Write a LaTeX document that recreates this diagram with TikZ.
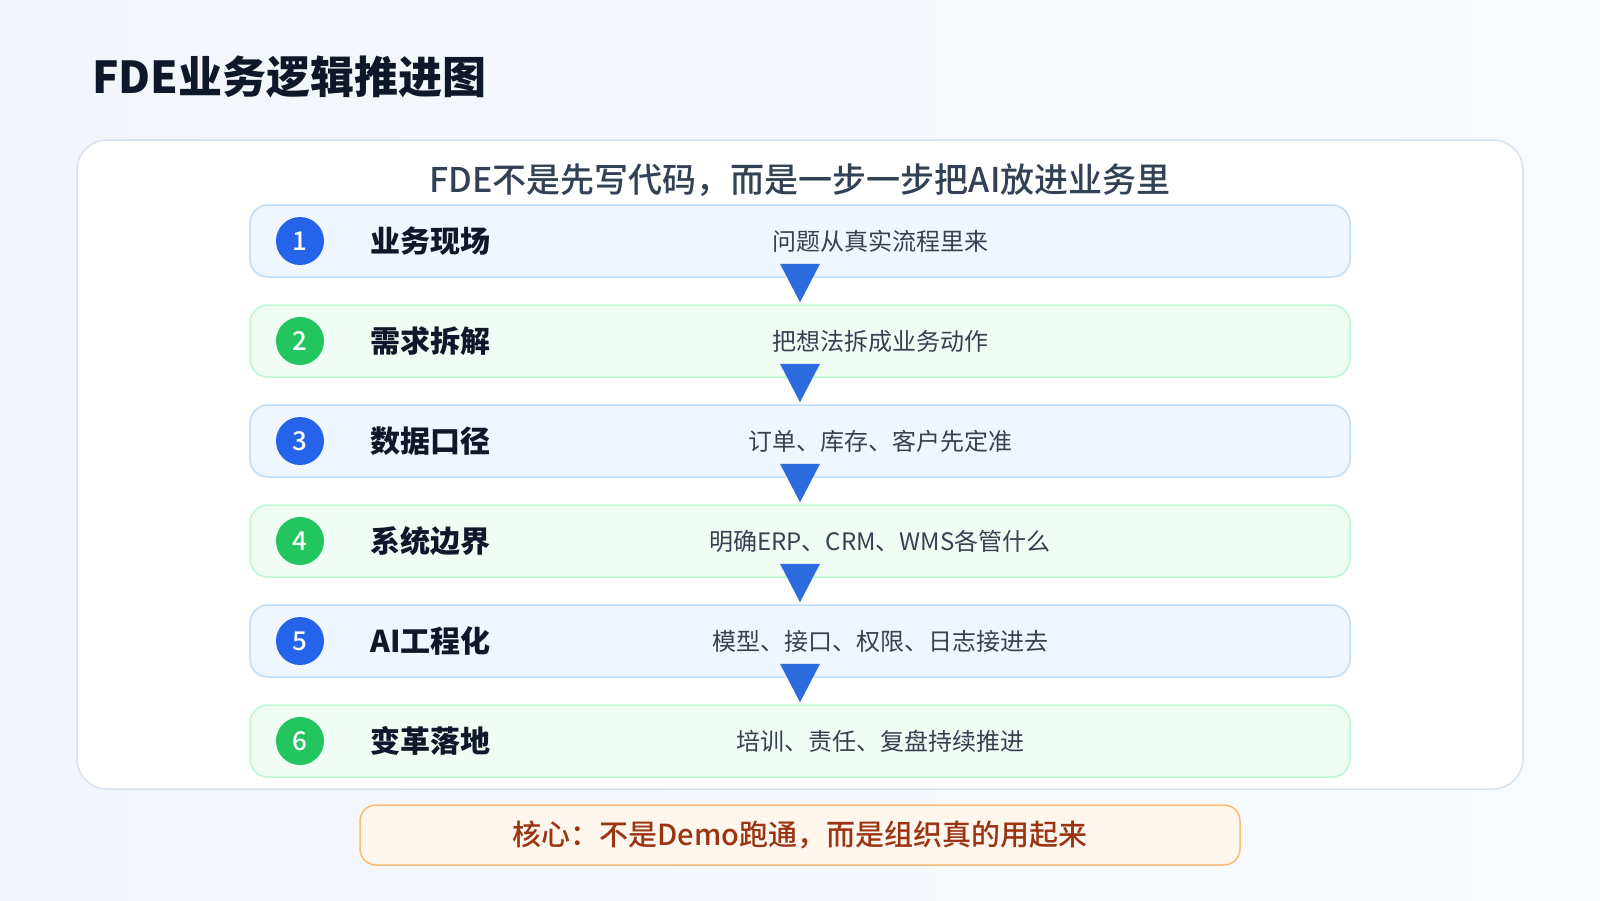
\documentclass[tikz,border=0pt]{standalone}
\usepackage{fontspec}
\setmainfont{Noto Sans CJK SC}
\newfontfamily\medfont{Noto Sans CJK SC Medium}
\usepackage{tikz}
\usetikzlibrary{positioning}
\usepackage{xcolor}
\definecolor{bgleft}{RGB}{242,246,251}
\definecolor{bgright}{RGB}{248,251,255}
\definecolor{panelline}{RGB}{214,226,240}
\definecolor{fdeblue}{RGB}{37,99,235}
\definecolor{fdegreen}{RGB}{34,197,94}
\definecolor{rowblue}{RGB}{239,246,255}
\definecolor{rowblueline}{RGB}{191,219,254}
\definecolor{rowgreen}{RGB}{240,253,244}
\definecolor{rowgreenline}{RGB}{187,247,208}
\definecolor{flowblue}{RGB}{45,108,223}
\definecolor{inkdark}{RGB}{15,23,42}
\definecolor{inkmid}{RGB}{51,65,85}
\definecolor{inkdesc}{RGB}{55,65,81}
\definecolor{corefill}{RGB}{255,247,237}
\definecolor{coreline}{RGB}{253,186,116}
\definecolor{coretext}{RGB}{154,52,18}
\tikzstyle{panel} = [rectangle, rounded corners=30pt, minimum width=1446pt, minimum height=649pt, draw=panelline, fill=white, line width=1.5pt]
\tikzstyle{stage} = [rectangle, rounded corners=18pt, minimum width=1100pt, minimum height=72pt, line width=1.5pt]
\tikzstyle{stageblue} = [stage, draw=rowblueline, fill=rowblue]
\tikzstyle{stagegreen} = [stage, draw=rowgreenline, fill=rowgreen]
\tikzstyle{stagenum} = [circle, minimum size=48pt, inner sep=0pt, text=white, font=\medfont\fontsize{26}{30}\selectfont]
\tikzstyle{stagelabel} = [inner sep=0pt, anchor=west, text=inkdark, font=\fontsize{30}{36}\selectfont\bfseries]
\tikzstyle{stagedesc} = [inner sep=0pt, text=inkdesc, font=\fontsize{24}{28}\selectfont]
\tikzstyle{flowtri} = [fill=flowblue]
\tikzstyle{corebox} = [rectangle, rounded corners=16pt, minimum width=880pt, minimum height=60pt, draw=coreline, fill=corefill, line width=1.5pt, text=coretext, font=\medfont\fontsize{29}{33}\selectfont]

\begin{document}
\begin{tikzpicture}[x=1pt, y=-1pt]
\useasboundingbox (0,0) rectangle (1600,900);
\shade[left color=bgleft, right color=bgright] (0,0) rectangle (1600,900);

% Title and panel
\node[inner sep=0pt, anchor=west, text=inkdark, font=\fontsize{44}{52}\selectfont\bfseries] (title) at (92,77) {FDE业务逻辑推进图};
\node[panel] (panel) at (800,464.5) {};
\node[inner sep=0pt, text=inkmid, font=\medfont\fontsize{34}{40}\selectfont] (sub) at (800,180) {FDE不是先写代码，而是一步一步把AI放进业务里};

% Stages
\node[stageblue] (r1) at (800,241) {};
\node[stagenum, fill=fdeblue] (n1) at (300,241) {1};
\node[stagelabel, right=46pt of n1] (t1) {业务现场};
\node[stagedesc] (d1) at (880,241) {问题从真实流程里来};

\node[stagegreen] (r2) at (800,341) {};
\node[stagenum, fill=fdegreen] (n2) at (300,341) {2};
\node[stagelabel, right=46pt of n2] (t2) {需求拆解};
\node[stagedesc] (d2) at (880,341) {把想法拆成业务动作};

\node[stageblue] (r3) at (800,441) {};
\node[stagenum, fill=fdeblue] (n3) at (300,441) {3};
\node[stagelabel, right=46pt of n3] (t3) {数据口径};
\node[stagedesc] (d3) at (880,441) {订单、库存、客户先定准};

\node[stagegreen] (r4) at (800,541) {};
\node[stagenum, fill=fdegreen] (n4) at (300,541) {4};
\node[stagelabel, right=46pt of n4] (t4) {系统边界};
\node[stagedesc] (d4) at (880,541) {明确ERP、CRM、WMS各管什么};

\node[stageblue] (r5) at (800,641) {};
\node[stagenum, fill=fdeblue] (n5) at (300,641) {5};
\node[stagelabel, right=46pt of n5] (t5) {AI工程化};
\node[stagedesc] (d5) at (880,641) {模型、接口、权限、日志接进去};

\node[stagegreen] (r6) at (800,741) {};
\node[stagenum, fill=fdegreen] (n6) at (300,741) {6};
\node[stagelabel, right=46pt of n6] (t6) {变革落地};
\node[stagedesc] (d6) at (880,741) {培训、责任、复盘持续推进};

% Flow triangles
\fill[flowtri] ([xshift=-20pt,yshift=14pt]r1.south) -- ([xshift=20pt,yshift=14pt]r1.south) -- ([yshift=2pt]r2.north) -- cycle;
\fill[flowtri] ([xshift=-20pt,yshift=14pt]r2.south) -- ([xshift=20pt,yshift=14pt]r2.south) -- ([yshift=2pt]r3.north) -- cycle;
\fill[flowtri] ([xshift=-20pt,yshift=14pt]r3.south) -- ([xshift=20pt,yshift=14pt]r3.south) -- ([yshift=2pt]r4.north) -- cycle;
\fill[flowtri] ([xshift=-20pt,yshift=14pt]r4.south) -- ([xshift=20pt,yshift=14pt]r4.south) -- ([yshift=2pt]r5.north) -- cycle;
\fill[flowtri] ([xshift=-20pt,yshift=14pt]r5.south) -- ([xshift=20pt,yshift=14pt]r5.south) -- ([yshift=2pt]r6.north) -- cycle;

% Core message
\node[corebox] (core) at (800,835) {核心：不是Demo跑通，而是组织真的用起来};
\end{tikzpicture}
\end{document}
